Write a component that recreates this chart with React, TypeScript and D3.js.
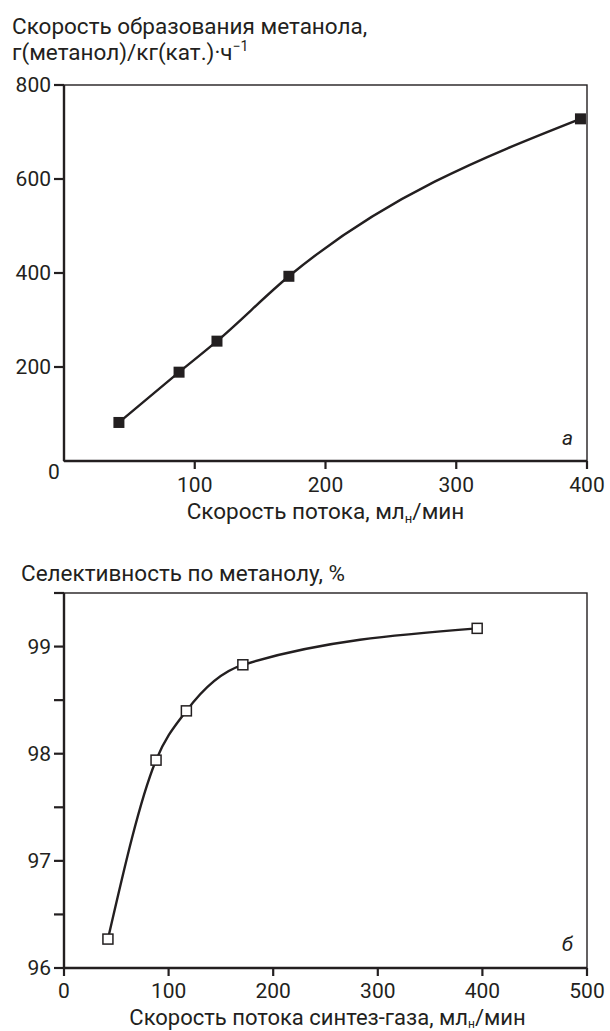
import React from "react";
import * as d3 from "d3";

const flowA = [42, 88, 117, 172, 395];
const rateA = [82, 189, 255, 393, 728];
const yTicksA = [200, 400, 600, 800];
const xTicksA = [100, 200, 300, 400];

const flowB = [42, 88, 117, 171, 395];
const selB = [96.27, 97.94, 98.4, 98.83, 99.17];
const yTicksB = [96, 96.5, 97, 97.5, 98, 98.5, 99, 99.5];
const yLabelsB = [96, 97, 98, 99];
const xTicksB = [0, 100, 200, 300, 400, 500];

const FONT = "Roboto, 'Noto Sans', sans-serif";

export default function App() {
  const left = 64;
  const right = 587;

  // chart a
  const xA = d3.scaleLinear().domain([0, 400]).range([left, right]);
  const yA = d3.scaleLinear().domain([0, 800]).range([461, 85]);
  const lineA = d3
    .line<number>()
    .x((_, i) => xA(flowA[i]))
    .y((d) => yA(d))
    .curve(d3.curveMonotoneX);

  // chart b
  const xB = d3.scaleLinear().domain([0, 500]).range([left, right]);
  const yB = d3.scaleLinear().domain([96, 99.5]).range([968, 593]);
  const lineB = d3
    .line<number>()
    .x((_, i) => xB(flowB[i]))
    .y((d) => yB(d))
    .curve(d3.curveMonotoneX);

  const fs = 21;
  const ft = 22.5;
  const sq = 11;

  return (
    <svg
      width={610}
      height={1031}
      style={{ position: "absolute", left: 0, top: 0, background: "#fff" }}
      fontFamily={FONT}
      fill="#231f20"
    >
      <rect x={0} y={0} width={610} height={1031} fill="#fff" />
      {/* ===== chart a ===== */}
      <text x={12} y={34} fontSize={ft}>Скорость образования метанола,</text>
      <text x={12} y={60} fontSize={ft}>
        г(метанол)/кг(кат.)·ч
        <tspan fontSize={14} dy={-9}>−1</tspan>
      </text>
      <rect x={left} y={yA(800)} width={right - left} height={yA(0) - yA(800)} fill="none" stroke="#231f20" strokeWidth={1.4} />
      <line x1={left} x2={left} y1={yA(800)} y2={yA(0)} stroke="#231f20" strokeWidth={2.4} />
      <line x1={left} x2={right} y1={yA(0)} y2={yA(0)} stroke="#231f20" strokeWidth={2.4} />
      {yTicksA.map((t) => (
        <g key={"ya" + t}>
          <line x1={left - 10} x2={left} y1={yA(t)} y2={yA(t)} stroke="#231f20" strokeWidth={2.2} />
          <text x={left - 13} y={yA(t) + 7} fontSize={fs} textAnchor="end">{t}</text>
        </g>
      ))}
      <text x={left - 10} y={yA(0) + 18} fontSize={fs} textAnchor="middle">0</text>
      {xTicksA.map((t) => (
        <g key={"xa" + t}>
          <line x1={xA(t)} x2={xA(t)} y1={yA(0)} y2={yA(0) + 8} stroke="#231f20" strokeWidth={2.2} />
          <text x={xA(t)} y={yA(0) + 31} fontSize={fs} textAnchor="middle">{t}</text>
        </g>
      ))}
      <text x={(left + right) / 2} y={yA(0) + 58} fontSize={ft} textAnchor="middle">
        Скорость потока, мл<tspan fontSize={13} dy={4}>н</tspan><tspan dy={-4}>/мин</tspan>
      </text>
      <text x={right - 14} y={yA(0) - 16} fontSize={fs} fontStyle="italic" textAnchor="end">a</text>
      <path d={lineA(rateA) || ""} fill="none" stroke="#231f20" strokeWidth={2.4} />
      {rateA.map((v, i) => (
        <rect key={"pa" + i} x={xA(flowA[i]) - sq / 2} y={yA(v) - sq / 2} width={sq} height={sq} fill="#231f20" />
      ))}

      {/* ===== chart b ===== */}
      <text x={21} y={581} fontSize={ft}>Селективность по метанолу, %</text>
      <rect x={left} y={yB(99.5)} width={right - left} height={yB(96) - yB(99.5)} fill="none" stroke="#231f20" strokeWidth={1.4} />
      <line x1={left} x2={left} y1={yB(99.5)} y2={yB(96)} stroke="#231f20" strokeWidth={2.4} />
      <line x1={left} x2={right} y1={yB(96)} y2={yB(96)} stroke="#231f20" strokeWidth={2.4} />
      {yTicksB.map((t) => (
        <line key={"yb" + t} x1={left - 10} x2={left} y1={yB(t)} y2={yB(t)} stroke="#231f20" strokeWidth={2.2} />
      ))}
      {yLabelsB.map((t) => (
        <text key={"ybl" + t} x={left - 13} y={yB(t) + 7} fontSize={fs} textAnchor="end">{t}</text>
      ))}
      {xTicksB.map((t) => (
        <g key={"xb" + t}>
          <line x1={xB(t)} x2={xB(t)} y1={yB(96)} y2={yB(96) + 8} stroke="#231f20" strokeWidth={2.2} />
          <text x={xB(t)} y={yB(96) + 30} fontSize={fs} textAnchor="middle">{t}</text>
        </g>
      ))}
      <text x={(left + right) / 2 + 2} y={yB(96) + 57} fontSize={22} textAnchor="middle">
        Скорость потока синтез-газа, мл<tspan fontSize={12} dy={3}>н</tspan><tspan dy={-3}>/мин</tspan>
      </text>
      <text x={right - 14} y={yB(96) - 17} fontSize={fs} fontStyle="italic" textAnchor="end">б</text>
      <path d={lineB(selB) || ""} fill="none" stroke="#231f20" strokeWidth={2.4} />
      {selB.map((v, i) => (
        <rect key={"pb" + i} x={xB(flowB[i]) - 5} y={yB(v) - 5} width={10} height={10} fill="#fff" stroke="#231f20" strokeWidth={1.5} />
      ))}
    </svg>
  );
}
